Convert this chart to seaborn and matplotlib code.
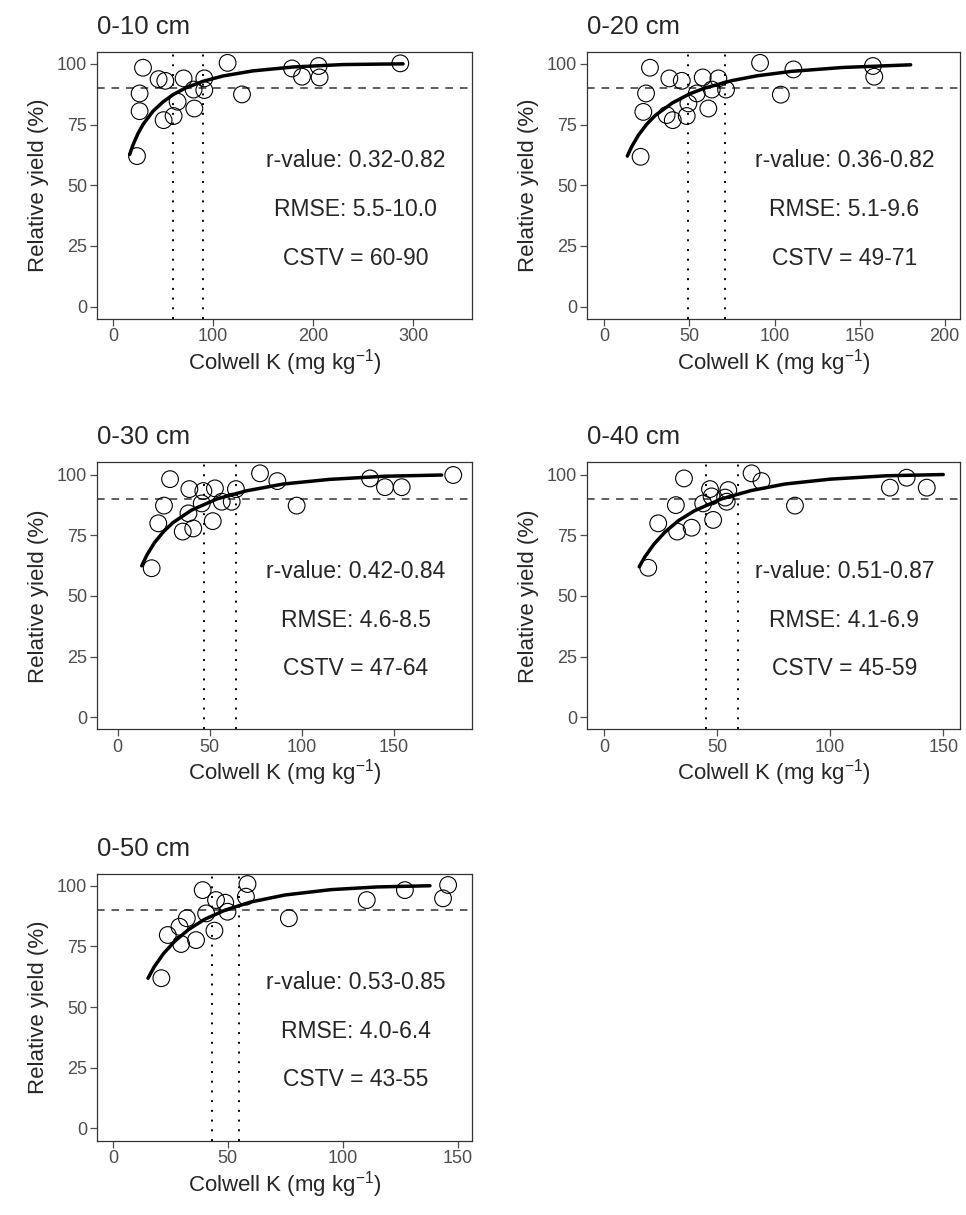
import matplotlib
matplotlib.use("Agg")
import matplotlib.pyplot as plt
import seaborn as sns

sns.set_style("ticks")
plt.rcParams['font.family'] = ['Liberation Sans', 'DejaVu Sans']
plt.rcParams['mathtext.fontset'] = 'custom'
plt.rcParams['mathtext.rm'] = 'Liberation Sans'
plt.rcParams['mathtext.it'] = 'Liberation Sans:italic'

# ---- data ----
depths = ['0-10 cm', '0-20 cm', '0-30 cm', '0-40 cm', '0-50 cm']
r_text = ['0.32-0.82', '0.36-0.82', '0.42-0.84', '0.51-0.87', '0.53-0.85']
rmse_text = ['5.5-10.0', '5.1-9.6', '4.6-8.5', '4.1-6.9', '4.0-6.4']
cstv_low = [60, 49, 47, 45, 43]
cstv_high = [90, 71, 64, 59, 55]

k10_x = [24, 30, 26.6, 26.6, 45.6, 52.3, 50.6, 60.6, 64.6, 70.6, 80.6, 81.3, 91.3, 91.3,
         114.6, 129, 179, 189, 205.6, 206.6, 287.3]
k10_y = [62.0, 98.4, 87.8, 80.5, 93.7, 93.0, 76.8, 78.5, 84.4, 94.0, 89.4, 81.6, 94.0, 89.2,
         100.4, 87.4, 98.1, 94.7, 99.1, 94.4, 100.2]
k20_x = [21.3, 26.8, 24.5, 22.9, 38.2, 45.5, 40.2, 36.6, 48.4, 49.4, 54.3, 57.8, 61.1, 63.1,
         67.0, 71.5, 91.5, 103.7, 111.1, 157.8, 158.6]
k20_y = [61.7, 98.4, 87.8, 80.2, 94.0, 93.0, 76.8, 78.9, 78.5, 83.7, 87.8, 94.4, 81.6, 89.4,
         94.0, 89.4, 100.4, 87.3, 97.7, 99.1, 94.7]
k30_x = [18.4, 28.4, 25.1, 22.0, 38.9, 38.4, 35.3, 41.0, 46.5, 45.6, 51.6, 52.8, 56.5, 61.9,
         64.2, 77.3, 86.7, 97.2, 137.1, 145.2, 154.3, 182.3]
k30_y = [61.4, 98.1, 87.2, 79.9, 94.0, 84.0, 76.5, 77.8, 93.2, 88.1, 80.8, 94.3, 88.8, 88.8,
         94.0, 100.5, 97.3, 87.2, 98.4, 94.8, 94.8, 99.8]
k40_x = [19.5, 35.3, 31.7, 23.9, 32.3, 38.7, 43.8, 46.8, 48.2, 54.9, 54.2, 65.2, 69.6, 84.4,
         126.4, 133.8, 142.7, 47.5, 53.5]
k40_y = [61.6, 98.4, 87.4, 79.9, 76.5, 78.1, 88.1, 94.0, 81.3, 93.6, 88.8, 100.5, 97.3, 87.2,
         94.6, 98.7, 94.6, 91.0, 90.5]
k50_x = [21.1, 58.6, 57.9, 39.1, 44.9, 48.9, 49.9, 40.6, 32.2, 44.2, 23.9, 29.7, 36.2, 29.0,
         76.6, 110.5, 127.1, 143.7, 145.9]
k50_y = [61.9, 100.7, 95.5, 98.2, 94.1, 93.0, 89.3, 88.6, 86.6, 81.5, 79.7, 76.0, 77.6, 83.1,
         86.6, 94.1, 98.2, 94.8, 100.3]

# fitted curves
c10_x = [16.6, 20, 25, 30, 40, 50, 60, 72.3, 90, 110, 140, 180, 230, 290]
c10_y = [62.6, 66.6, 71.3, 75.0, 80.5, 84.3, 87.3, 90.0, 92.8, 95.0, 97.1, 98.7, 99.7, 100.0]
c20_x = [13.5, 16, 20, 25, 30, 40, 50, 59, 75, 90, 110, 140, 180]
c20_y = [62.0, 65.8, 70.6, 75.2, 78.8, 83.9, 87.6, 90.0, 93.1, 95.1, 96.9, 98.5, 99.6]
c30_x = [13, 16, 20, 25, 30, 40, 54, 70, 90, 115, 145, 176]
c30_y = [62.4, 67.1, 72.0, 76.6, 80.2, 85.3, 90.0, 93.3, 96.1, 98.0, 99.3, 99.8]
c40_x = [15.5, 18, 22, 27, 33, 40, 52, 65, 80, 100, 125, 150]
c40_y = [62.0, 66.1, 71.3, 76.4, 81.1, 85.1, 90.0, 93.4, 96.1, 98.1, 99.5, 100.0]
c50_x = [15.3, 18, 22, 27, 33, 40, 49, 60, 75, 95, 115, 138]
c50_y = [61.9, 66.6, 72.0, 77.2, 82.0, 86.2, 90.0, 93.3, 96.2, 98.4, 99.5, 100.0]

pts_x = [k10_x, k20_x, k30_x, k40_x, k50_x]
pts_y = [k10_y, k20_y, k30_y, k40_y, k50_y]
crv_x = [c10_x, c20_x, c30_x, c40_x, c50_x]
crv_y = [c10_y, c20_y, c30_y, c40_y, c50_y]

x_ticks = [[0, 100, 200, 300], [0, 50, 100, 150, 200], [0, 50, 100, 150],
           [0, 50, 100, 150], [0, 50, 100, 150]]
x_lims = [(-16, 359), (-10.2, 209), (-11.3, 192.5), (-7.6, 157.4), (-6.9, 156.3)]

# ---- layout (pixels) ----
W, H = 966, 1215
col_left = [97, 587]
col_w = [375, 373]
row_top = [51.7, 462.4, 873.6]
ax_h = 267

fig = plt.figure(figsize=(W / 100, H / 100), dpi=100)

for i in range(5):
    r, c = divmod(i, 2)
    rect = [col_left[c] / W, 1 - (row_top[r] + ax_h) / H, col_w[c] / W, ax_h / H]
    ax = fig.add_axes(rect)

    ax.axhline(90, color='#333333', lw=1.1, ls=(0, (5, 4.5)), zorder=1)
    ax.axvline(cstv_low[i], color='black', lw=1.4, ls=(0, (1, 4)), zorder=1)
    ax.axvline(cstv_high[i], color='black', lw=1.4, ls=(0, (1, 4)), zorder=1)

    sns.scatterplot(x=pts_x[i], y=pts_y[i], ax=ax, s=145, facecolor='none',
                    edgecolor='black', linewidth=0.8, zorder=2)
    sns.lineplot(x=crv_x[i], y=crv_y[i], ax=ax, color='black', linewidth=2.5, zorder=3)

    ax.text(0.69, 60, 'r-value: ' + r_text[i], transform=ax.get_yaxis_transform(),
            ha='center', va='center', fontsize=16.5)
    ax.text(0.69, 40, 'RMSE: ' + rmse_text[i], transform=ax.get_yaxis_transform(),
            ha='center', va='center', fontsize=16.5)
    ax.text(0.69, 20, 'CSTV = %d-%d' % (cstv_low[i], cstv_high[i]),
            transform=ax.get_yaxis_transform(), ha='center', va='center', fontsize=16.5)

    ax.set_xlim(*x_lims[i])
    ax.set_ylim(-5, 105)
    ax.set_xticks(x_ticks[i])
    ax.set_yticks([0, 25, 50, 75, 100])
    ax.tick_params(labelsize=13, colors='#4D4D4D', length=5, width=0.9, pad=2)
    for sp in ax.spines.values():
        sp.set_color('#333333')
        sp.set_linewidth(0.9)
    ax.set_xlabel(r'Colwell K (mg kg$^{-1}$)', fontsize=16, labelpad=1)
    ax.set_ylabel('Relative yield (%)', fontsize=16, labelpad=6)
    ax.set_title(depths[i], loc='left', fontsize=18.5, pad=13)

fig.savefig('out.png', dpi=100)
